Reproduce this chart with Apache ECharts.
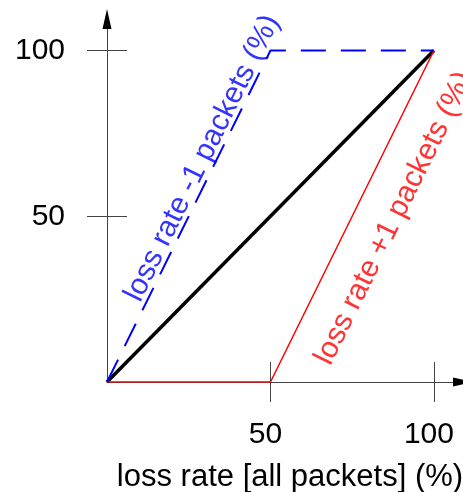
<!DOCTYPE html>
<html>
<head>
<meta charset="utf-8">
<script src="https://cdn.jsdelivr.net/npm/echarts@6/dist/echarts.min.js"></script>
<style>
  html, body { margin: 0; padding: 0; background: #fff; }
  #chart { width: 463px; height: 492px; }
</style>
</head>
<body>
<div id="chart"></div>
<script>
// Loss rate of all packets (x) against the loss rate seen when one packet
// more (+1) or one packet less (-1) is counted.
const allLoss    = [0, 100];
const equalLoss  = [0, 100];
const plusX      = [0, 50, 100];
const plusLoss   = [0, 0, 100];
const minusX     = [0, 50, 100];
const minusLoss  = [0, 100, 100];
const xTicks     = [50, 100];
const yTicks     = [50, 100];
const xTitle     = 'loss rate [all packets] (%)';
const minusTitle = 'loss rate -1 packets (%)';
const plusTitle  = 'loss rate +1 packets (%)';
// anchor points (data units) of the two rotated curve captions
const minusAnchor = [29.2, 67.5];
const plusAnchor  = [87.9, 49.4];

const FONT = 'Liberation Sans, Arial, sans-serif';
const AXIS = '#444';

function pairs(xs, ys) { return xs.map((x, i) => [x, ys[i]]); }

const chart = echarts.init(document.getElementById('chart'), null, { renderer: 'canvas' });

// companion axes: inner half of each tick plus a solid black arrow head
const tickAxisBase = {
  type: 'value', min: 0,
  axisLine: { show: true, onZero: false, lineStyle: { color: '#000', width: 0 }, symbol: ['none', 'triangle'], symbolSize: [9, 20] },
  axisLabel: { show: false },
  splitLine: { show: false }
};

chart.setOption({
  animation: false,
  backgroundColor: '#fff',
  grid: { left: 107, right: 0, top: 19, bottom: 110, containLabel: false, outerBoundsMode: 'none' },
  xAxis: [
    {
      type: 'value', min: 0, max: 108.9,
      name: xTitle, nameLocation: 'middle', nameGap: 80,
      nameTextStyle: { fontFamily: FONT, fontSize: 31, color: '#000', padding: [0, 0, 0, 10] },
      axisLine: { onZero: false, lineStyle: { color: AXIS, width: 1 } },
      axisTick: { length: 20, customValues: xTicks, lineStyle: { color: AXIS, width: 1 } },
      axisLabel: { customValues: xTicks, margin: 38, fontFamily: FONT, fontSize: 30, color: '#000', padding: [0, 10, 0, 0] },
      splitLine: { show: false }
    },
    Object.assign({}, tickAxisBase, {
      max: 108.9, position: 'bottom',
      axisTick: { inside: true, length: 20, customValues: xTicks, lineStyle: { color: AXIS, width: 1 } }
    })
  ],
  yAxis: [
    {
      type: 'value', min: 0, max: 109.5,
      axisLine: { onZero: false, lineStyle: { color: AXIS, width: 1 } },
      axisTick: { length: 20, customValues: yTicks, lineStyle: { color: AXIS, width: 1 } },
      axisLabel: { customValues: yTicks, margin: 42, fontFamily: FONT, fontSize: 30, color: '#000' },
      splitLine: { show: false }
    },
    Object.assign({}, tickAxisBase, {
      max: 109.5, position: 'left',
      axisTick: { inside: true, length: 20, customValues: yTicks, lineStyle: { color: AXIS, width: 1 } }
    })
  ],
  series: [
    {
      name: 'all', type: 'line', data: pairs(allLoss, equalLoss),
      symbol: 'none', lineStyle: { color: '#000', width: 3.5 }, z: 3
    },
    {
      name: 'plus1', type: 'line', data: pairs(plusX, plusLoss),
      symbol: 'none', lineStyle: { color: '#ff0000', width: 1.5 }, z: 4
    },
    {
      name: 'minus1', type: 'line', data: pairs(minusX, minusLoss),
      symbol: 'none', lineStyle: { color: '#0000ff', width: 2, type: [25, 15] }, z: 5
    },
    {
      name: 'captions', type: 'scatter', symbolSize: 0, silent: true, z: 6,
      data: [
        { value: minusAnchor, label: { formatter: minusTitle, color: '#0000ff' } },
        { value: plusAnchor,  label: { formatter: plusTitle,  color: '#ff0000' } }
      ],
      label: {
        show: true, position: 'inside', rotate: 63.7,
        align: 'center', verticalAlign: 'middle',
        fontFamily: FONT, fontSize: 30
      }
    }
  ]
});
</script>
</body>
</html>
